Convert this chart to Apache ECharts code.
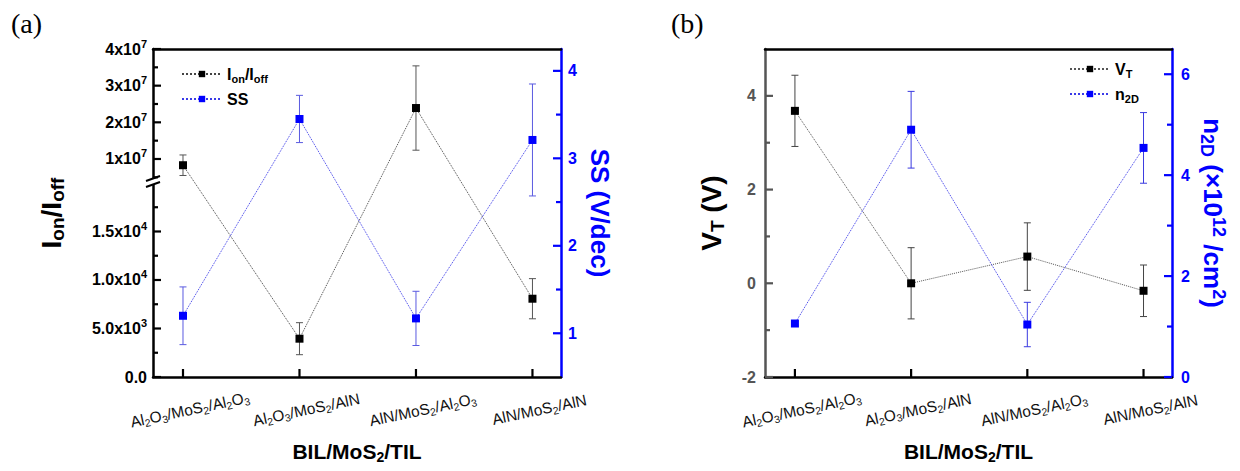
<!DOCTYPE html>
<html><head><meta charset="utf-8">
<script src="https://cdn.jsdelivr.net/npm/echarts@6/dist/echarts.min.js"></script>
<style>html,body{margin:0;padding:0;background:#fff}#c{width:1240px;height:471px}</style>
</head><body><div id="c"></div>
<script>
// ---------- data ----------
const categories = ['Al2O3/MoS2/Al2O3', 'Al2O3/MoS2/AlN', 'AlN/MoS2/Al2O3', 'AlN/MoS2/AlN'];
const onOff    = [8.3e6, 3950, 2.39e7, 8070];
const onOffErr = [2.8e6, 1650, 1.15e7, 2070];
const ss       = [1.20, 3.45, 1.17, 3.21];
const ssErr    = [0.33, 0.27, 0.31, 0.64];
const vt       = [3.68, 0.00, 0.57, -0.16];
const vtErr    = [0.76, 0.76, 0.72, 0.55];
const n2d      = [1.06, 4.90, 1.04, 4.54];
const n2dErr   = [0.05, 0.76, 0.44, 0.70];

const onOffTicks = [0, 5000, 10000, 15000, 1e7, 2e7, 3e7, 4e7];
const onOffMinor = [2500, 7500, 12500, 17500, 5e6, 1.5e7, 2.5e7, 3.5e7];
const ssTicks  = [1, 2, 3, 4];
const ssMinor  = [1.5, 2.5, 3.5];
const vtTicks  = [-2, 0, 2, 4];
const vtMinor  = [-1, 1, 3];
const n2dTicks = [0, 2, 4, 6];
const n2dMinor = [1, 3, 5];
const catTicks = [0, 1, 2, 3];

// ---------- broken axis scale (lower 0..2e4, upper 4e6..4e7) ----------
const LOW_MAX = 2e4, HIGH_MIN = 4e6, HIGH_MAX = 4e7;
const LOW_FRAC = 0.5915, HIGH_START = 0.5976;
function brk(v) {
  if (v <= LOW_MAX) return v / LOW_MAX * LOW_FRAC;
  return HIGH_START + (v - HIGH_MIN) / (HIGH_MAX - HIGH_MIN) * (1 - HIGH_START);
}
function unbrk(t) {
  if (t <= LOW_FRAC + 1e-9) return t / LOW_FRAC * LOW_MAX;
  return HIGH_MIN + (t - HIGH_START) / (1 - HIGH_START) * (HIGH_MAX - HIGH_MIN);
}
const ident = v => v;

const FONT = 'Arial, "Liberation Sans", sans-serif';
const XMIN = -0.2575, XMAX = 3.245;

function sciLabel(t) {
  const raw = unbrk(t);
  let v = onOffTicks.reduce((a, b) => Math.abs(b - raw) < Math.abs(a - raw) ? b : a);
  if (v === 0) return '{b|0.0}';
  const e = Math.floor(Math.log10(v) + 1e-9);
  const m = v / Math.pow(10, e);
  const mant = v >= 1e6 ? m.toFixed(0) : m.toFixed(1);
  return '{b|' + mant + 'x10}{sup|' + e + '}';
}
function chemLabel(s) {
  return s.replace(/([A-Za-z\/]+)|(\d+)/g, (m, a, d) => a ? '{n|' + a + '}' : '{s|' + d + '}');
}

const sciRich = {
  b: {fontSize: 16, fontWeight: 'bold', fontFamily: FONT, color: '#000', lineHeight: 22},
  sup: {fontSize: 11, fontWeight: 'bold', fontFamily: FONT, color: '#000', verticalAlign: 'top', lineHeight: 12}
};
const chemRich = {
  n: {fontSize: 15.5, fontFamily: FONT, color: '#111', lineHeight: 20},
  s: {fontSize: 10.5, fontFamily: FONT, color: '#111', verticalAlign: 'bottom', lineHeight: 12}
};
function titleRich(size, color) {
  return {
    m: {fontSize: size, fontWeight: 'bold', fontFamily: FONT, color: color, lineHeight: size + 4},
    s: {fontSize: Math.round(size * 0.68), fontWeight: 'bold', fontFamily: FONT, color: color, verticalAlign: 'bottom', lineHeight: Math.round(size * 0.6)},
    p: {fontSize: Math.round(size * 0.68), fontWeight: 'bold', fontFamily: FONT, color: color, verticalAlign: 'top', lineHeight: Math.round(size * 0.6)}
  };
}
const legendRich = {
  m: {fontSize: 16, fontWeight: 'bold', fontFamily: FONT, color: '#000', lineHeight: 20},
  s: {fontSize: 11, fontWeight: 'bold', fontFamily: FONT, color: '#000', verticalAlign: 'bottom', lineHeight: 12}
};
const legendNames = {
  'Ion/Ioff': '{m|I}{s|on}{m|/I}{s|off}',
  'SS': '{m|SS}',
  'VT': '{m|V}{s|T}',
  'n2D': '{m|n}{s|2D}'
};

function xAxisDef(gi) {
  return {
    gridIndex: gi, type: 'value', position: 'bottom', min: XMIN, max: XMAX,
    axisLine: {show: true, onZero: false, lineStyle: {color: '#000', width: 2.5}},
    axisTick: {show: false},
    axisLabel: {
      customValues: catTicks, formatter: v => chemLabel(categories[Math.round(v)]),
      rotate: 12, align: 'center', verticalAlign: 'middle', margin: 34, padding: [0, 0, 0, 14], rich: chemRich
    },
    splitLine: {show: false},
    name: '{m|BIL/MoS}{s|2}{m|/TIL}', nameLocation: 'middle', nameGap: 62,
    nameTextStyle: {rich: titleRich(21, '#000')}
  };
}
function topAxisDef(gi) {
  return {
    gridIndex: gi, type: 'value', position: 'top', min: XMIN, max: XMAX,
    axisLine: {show: true, onZero: false, lineStyle: {color: '#000', width: 2.5}},
    axisTick: {show: false}, axisLabel: {show: false}, splitLine: {show: false}
  };
}
function yAxisDef(o) {
  const base = {
    gridIndex: o.grid, type: 'value', position: o.pos, min: o.min, max: o.max,
    axisLine: {show: true, onZero: false, lineStyle: {color: o.color, width: 2.5}},
    axisTick: {show: false},
    axisLabel: {customValues: o.ticks, margin: o.margin, formatter: o.fmt, rich: o.rich,
      fontSize: 16, fontWeight: 'bold', fontFamily: FONT, color: o.labelColor},
    splitLine: {show: false}
  };
  if (o.name) {
    base.name = o.name; base.nameLocation = 'middle'; base.nameGap = o.nameGap;
    if (o.nameRotate !== undefined) base.nameRotate = o.nameRotate;
    base.nameTextStyle = {rich: o.nameRich};
  }
  return base;
}

function lineSeries(name, xi, yi, vals, color, lineColor, tf) {
  return {
    type: 'line', name: name, xAxisIndex: xi, yAxisIndex: yi,
    data: vals.map((v, i) => [i, tf(v)]),
    symbol: 'rect', symbolSize: 8, itemStyle: {color: color},
    lineStyle: {color: lineColor, width: 1, type: 'dotted'}, z: 4, animation: false
  };
}
function errSeries(name, xi, yi, vals, errs, color, tf) {
  return {
    type: 'custom', name: name, xAxisIndex: xi, yAxisIndex: yi, silent: true, z: 3, animation: false,
    data: vals.map((v, i) => [i, tf(v - errs[i]), tf(v + errs[i])]),
    encode: {x: 0, y: [1, 2]},
    renderItem: function (params, api) {
      const lo = api.coord([api.value(0), api.value(1)]);
      const hi = api.coord([api.value(0), api.value(2)]);
      const w = 3.5;
      const st = {stroke: color, lineWidth: 1};
      return {type: 'group', children: [
        {type: 'line', shape: {x1: lo[0], y1: lo[1], x2: hi[0], y2: hi[1]}, style: st},
        {type: 'line', shape: {x1: lo[0] - w, y1: lo[1], x2: lo[0] + w, y2: lo[1]}, style: st},
        {type: 'line', shape: {x1: hi[0] - w, y1: hi[1], x2: hi[0] + w, y2: hi[1]}, style: st}
      ]};
    }
  };
}

const BLUE = '#0000ff';
const chart = echarts.init(document.getElementById('c'), null, {renderer: 'svg'});
const option = {
  backgroundColor: '#fff',
  animation: false,
  title: [
    {text: '(a)', left: 6, top: 4, textStyle: {fontFamily: '"Liberation Serif", "Times New Roman", serif', fontSize: 28, fontWeight: 'normal', color: '#000'}},
    {text: '(b)', left: 666, top: 4, textStyle: {fontFamily: '"Liberation Serif", "Times New Roman", serif', fontSize: 28, fontWeight: 'normal', color: '#000'}}
  ],
  grid: [
    {left: 153, top: 49, width: 408, height: 328, show: false, containLabel: false},
    {left: 765, top: 49, width: 407, height: 328, show: false, containLabel: false}
  ],
  legend: [
    {data: ['Ion/Ioff', 'SS'], orient: 'vertical', left: 176, top: 61, itemWidth: 40, itemHeight: 8, itemGap: 7,
      formatter: n => legendNames[n], textStyle: {rich: legendRich}},
    {data: ['VT', 'n2D'], orient: 'vertical', left: 1064, top: 56, itemWidth: 40, itemHeight: 8, itemGap: 7,
      formatter: n => legendNames[n], textStyle: {rich: legendRich}}
  ],
  xAxis: [xAxisDef(0), xAxisDef(1), topAxisDef(0), topAxisDef(1)],
  yAxis: [
    yAxisDef({grid: 0, pos: 'left', min: 0, max: 1, color: '#000', labelColor: '#000', ticks: onOffTicks.map(brk),
      fmt: sciLabel, rich: sciRich, margin: 6,
      name: '{m|I}{s|on}{m|/I}{s|off}', nameGap: 86, nameRich: titleRich(28, '#000')}),
    yAxisDef({grid: 0, pos: 'right', min: 0.5, max: 4.25, color: BLUE, labelColor: BLUE, ticks: ssTicks,
      fmt: v => String(Math.round(v)), margin: 7,
      name: '{m|SS (V/dec)}', nameGap: 24, nameRotate: -90, nameRich: titleRich(26, BLUE)}),
    yAxisDef({grid: 1, pos: 'left', min: -2, max: 5, color: '#555', labelColor: '#555', ticks: vtTicks,
      fmt: v => String(Math.round(v)), margin: 9,
      name: '{m|V}{s|T}{m| (V)}', nameGap: 38, nameRich: titleRich(28, '#000')}),
    yAxisDef({grid: 1, pos: 'right', min: 0, max: 6.5, color: BLUE, labelColor: BLUE, ticks: n2dTicks,
      fmt: v => String(Math.round(v)), margin: 9,
      name: '{m|n}{s|2D}{m| (×10}{p|12}{m| /cm}{p|2}{m|)}', nameGap: 26, nameRotate: -90, nameRich: titleRich(26, BLUE)})
  ],
  series: [
    errSeries('Ion/Ioff err', 0, 0, onOff, onOffErr, '#555', brk),
    errSeries('SS err', 0, 1, ss, ssErr, '#5a5ae0', ident),
    lineSeries('Ion/Ioff', 0, 0, onOff, '#000', '#444', brk),
    lineSeries('SS', 0, 1, ss, BLUE, '#3a3ae8', ident),
    errSeries('VT err', 1, 2, vt, vtErr, '#444', ident),
    errSeries('n2D err', 1, 3, n2d, n2dErr, '#3a3ae0', ident),
    lineSeries('VT', 1, 2, vt, '#000', '#555', ident),
    lineSeries('n2D', 1, 3, n2d, BLUE, '#3a3ae8', ident)
  ]
};
chart.setOption(option);

// ---------- inward tick marks, positioned through the axes' scales ----------
const px = (xi, v) => chart.convertToPixel({xAxisIndex: xi}, v);
const py = (yi, v) => chart.convertToPixel({yAxisIndex: yi}, v);
const gfx = [];
function hTicks(xi, yi, edgeX, dir, vals, len, color) {
  const x = px(xi, edgeX);
  vals.forEach(v => {
    const y = py(yi, v);
    gfx.push({type: 'line', shape: {x1: x, y1: y, x2: x + dir * len, y2: y}, style: {stroke: color, lineWidth: 2.2}, z: 90});
  });
}
function vTicks(xi, yi, edgeY, vals, len, color) {
  const y = py(yi, edgeY);
  vals.forEach(v => {
    const x = px(xi, v);
    gfx.push({type: 'line', shape: {x1: x, y1: y, x2: x, y2: y - len}, style: {stroke: color, lineWidth: 2.2}, z: 90});
  });
}
vTicks(0, 0, 0, catTicks, 8, '#000');
vTicks(1, 2, -2, catTicks, 8, '#000');
hTicks(0, 0, XMIN, 1, onOffTicks.map(brk), 8, '#000');
hTicks(0, 0, XMIN, 1, onOffMinor.map(brk), 5, '#000');
hTicks(0, 1, XMAX, -1, ssTicks, 8, BLUE);
hTicks(0, 1, XMAX, -1, ssMinor, 5, BLUE);
hTicks(1, 2, XMIN, 1, vtTicks, 8, '#555');
hTicks(1, 2, XMIN, 1, vtMinor, 5, '#555');
hTicks(1, 3, XMAX, -1, n2dTicks, 8, BLUE);
hTicks(1, 3, XMAX, -1, n2dMinor, 5, BLUE);

// axis break marker on the left axis of panel (a)
const by = py(0, (LOW_FRAC + HIGH_START) / 2);
const bx = px(0, XMIN);
gfx.push(
  {type: 'rect', shape: {x: bx - 7, y: by - 3, width: 14, height: 6}, style: {fill: '#fff'}, z: 100},
  {type: 'line', shape: {x1: bx - 7, y1: by - 1, x2: bx + 7, y2: by - 6}, style: {stroke: '#000', lineWidth: 2}, z: 101},
  {type: 'line', shape: {x1: bx - 7, y1: by + 5, x2: bx + 7, y2: by}, style: {stroke: '#000', lineWidth: 2}, z: 101}
);
chart.setOption({graphic: gfx});
</script>
</body></html>
